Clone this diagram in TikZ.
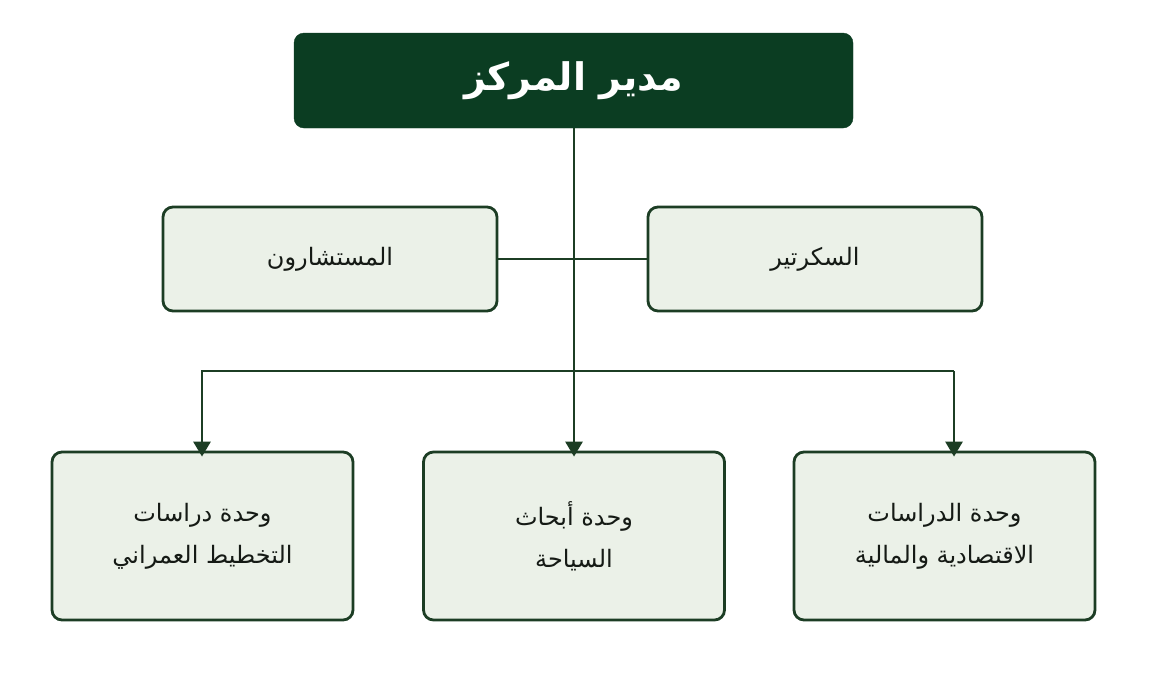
\documentclass[tikz,border=0pt]{standalone}
\usepackage{fontspec}
\usetikzlibrary{arrows.meta}
\TeXXeTstate=1
\newfontfamily\arabicfont[Script=Arabic]{DejaVu Sans}
\definecolor{dkgreen}{HTML}{0B3D22}
\definecolor{edgegreen}{HTML}{1C3D24}
\definecolor{lightfill}{HTML}{EBF1E8}
\definecolor{txtcol}{HTML}{151A15}
\begin{document}
\begin{tikzpicture}[x=1pt,y=-1pt,
  topbox/.style={draw=dkgreen,fill=dkgreen,rounded corners=10pt,minimum width=559pt,minimum height=95pt,text=white,font=\arabicfont\bfseries\fontsize{38}{44}\selectfont},
  midbox/.style={draw=edgegreen,line width=2.8pt,fill=lightfill,rounded corners=10pt,minimum width=334pt,minimum height=104pt,text=txtcol,font=\arabicfont\fontsize{24}{30}\selectfont},
  unitbox/.style={draw=edgegreen,line width=2.8pt,fill=lightfill,rounded corners=10pt,minimum width=301pt,minimum height=168pt,text=txtcol,align=center,font=\arabicfont\fontsize{24}{42}\selectfont},
  conn/.style={draw=edgegreen,line width=2.8pt},
  arr/.style={conn,-{Triangle[length=15pt,width=17pt]}}]
\useasboundingbox (0,0) rectangle (1150,683);
\fill[white] (0,0) rectangle (1150,683);
\node[topbox] (dir) at (573.5,80.5) {\beginR مدير المركز\endR};
\node[midbox] (adv) at (330,259) {\beginR المستشارون\endR};
\node[midbox] (sec) at (815,259) {\beginR السكرتير\endR};
\node[unitbox] (u1) at (202.5,536) {\beginR وحدة دراسات\endR\\\beginR التخطيط العمراني\endR};
\node[unitbox] (u2) at (574,536) {\beginR وحدة أبحاث\endR\\\beginR السياحة\endR};
\node[unitbox] (u3) at (944.5,536) {\beginR وحدة الدراسات\endR\\\beginR الاقتصادية والمالية\endR};
\coordinate (bus) at (574,371);
\coordinate (busL) at (202,371);
\coordinate (busR) at (954,371);
\draw[conn] (adv.east) -- (sec.west);
\draw[arr] (dir.south -| bus) -- (bus) -- ([yshift=-6pt]u2.north);
\draw[arr,line join=miter] (busR) -- (busL) -- ([yshift=-6pt]u1.north -| busL);
\draw[arr] (busR) -- ([yshift=-6pt]u3.north -| busR);
\end{tikzpicture}
\end{document}
